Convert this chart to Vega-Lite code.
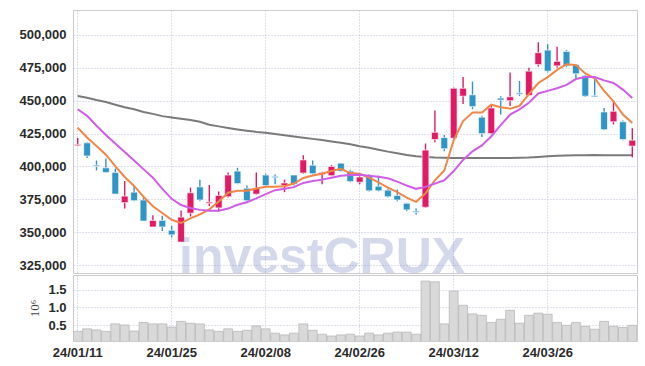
{
  "$schema": "https://vega.github.io/schema/vega-lite/v6.json",
  "autosize": {"type": "pad"},
  "padding": {"left": 17, "top": 9, "right": 9, "bottom": 4},
  "background": "white",
  "spacing": 0,
  "config": {
    "view": {"stroke": "#cccccc", "strokeWidth": 1},
    "axis": {
      "labelFont": "Liberation Sans",
      "labelFontSize": 13,
      "labelFontWeight": "bold",
      "labelColor": "#2a2a2a",
      "labelOverlap": false,
      "gridColor": "#bcc3da",
      "gridDash": [1, 2],
      "gridWidth": 1,
      "ticks": false,
      "domain": false
    }
  },
  "data": {"name": "k"},
  "datasets": {
    "k": [
      {"d": "24/01/11", "o": 415800, "h": 421600, "l": 415500, "c": 416800, "v": 0.33, "ma5": 429500, "ma10": 443500, "ma60": 453600},
      {"d": "24/01/12", "o": 418000, "h": 418500, "l": 406500, "c": 408000, "v": 0.40, "ma5": 422000, "ma10": 438500, "ma60": 452200},
      {"d": "24/01/15", "o": 401000, "h": 404500, "l": 397000, "c": 400000, "v": 0.37, "ma5": 415500, "ma10": 431000, "ma60": 450500},
      {"d": "24/01/16", "o": 399000, "h": 406000, "l": 395000, "c": 395500, "v": 0.33, "ma5": 409000, "ma10": 424000, "ma60": 449000},
      {"d": "24/01/17", "o": 395500, "h": 398500, "l": 379000, "c": 379000, "v": 0.54, "ma5": 400300, "ma10": 417500, "ma60": 447000},
      {"d": "24/01/18", "o": 372500, "h": 389000, "l": 368000, "c": 377500, "v": 0.51, "ma5": 392000, "ma10": 411000, "ma60": 445000},
      {"d": "24/01/19", "o": 380500, "h": 385000, "l": 373500, "c": 374000, "v": 0.34, "ma5": 385200, "ma10": 404500, "ma60": 443500},
      {"d": "24/01/22", "o": 374500, "h": 376000, "l": 358500, "c": 358500, "v": 0.58, "ma5": 377000, "ma10": 398000, "ma60": 441500},
      {"d": "24/01/23", "o": 354000, "h": 363000, "l": 354000, "c": 359000, "v": 0.54, "ma5": 369800, "ma10": 391500, "ma60": 440000},
      {"d": "24/01/24", "o": 359000, "h": 362500, "l": 351000, "c": 354000, "v": 0.54, "ma5": 364600, "ma10": 383000, "ma60": 438300},
      {"d": "24/01/25", "o": 351500, "h": 355000, "l": 346000, "c": 348000, "v": 0.45, "ma5": 359500, "ma10": 375400, "ma60": 437300},
      {"d": "24/01/26", "o": 342500, "h": 366500, "l": 342500, "c": 361500, "v": 0.61, "ma5": 357000, "ma10": 370700, "ma60": 436300},
      {"d": "24/01/29", "o": 364500, "h": 384000, "l": 362000, "c": 380000, "v": 0.56, "ma5": 360500, "ma10": 368500, "ma60": 435300},
      {"d": "24/01/30", "o": 384500, "h": 390000, "l": 373500, "c": 374500, "v": 0.54, "ma5": 363600, "ma10": 367000, "ma60": 434000},
      {"d": "24/01/31", "o": 372000, "h": 386000, "l": 370000, "c": 373000, "v": 0.37, "ma5": 367400, "ma10": 366300, "ma60": 431800},
      {"d": "24/02/01", "o": 368500, "h": 381000, "l": 366000, "c": 378000, "v": 0.33, "ma5": 373400, "ma10": 366300, "ma60": 430500},
      {"d": "24/02/02", "o": 377000, "h": 395500, "l": 376500, "c": 393500, "v": 0.40, "ma5": 380000, "ma10": 368000, "ma60": 429300},
      {"d": "24/02/05", "o": 396500, "h": 399000, "l": 386500, "c": 387000, "v": 0.33, "ma5": 381500, "ma10": 370900, "ma60": 428200},
      {"d": "24/02/06", "o": 383500, "h": 385500, "l": 373000, "c": 374000, "v": 0.36, "ma5": 381500, "ma10": 372800, "ma60": 427200},
      {"d": "24/02/07", "o": 379000, "h": 395500, "l": 378500, "c": 383500, "v": 0.48, "ma5": 383200, "ma10": 375800, "ma60": 426300},
      {"d": "24/02/08", "o": 393500, "h": 394500, "l": 384500, "c": 385500, "v": 0.40, "ma5": 384500, "ma10": 379000, "ma60": 425700},
      {"d": "24/02/13", "o": 392500, "h": 394000, "l": 386500, "c": 391500, "v": 0.28, "ma5": 384600, "ma10": 382000, "ma60": 424700},
      {"d": "24/02/14", "o": 385500, "h": 390000, "l": 380500, "c": 387500, "v": 0.23, "ma5": 385000, "ma10": 383000, "ma60": 423800},
      {"d": "24/02/15", "o": 393500, "h": 393500, "l": 385500, "c": 386500, "v": 0.28, "ma5": 387000, "ma10": 384300, "ma60": 422800},
      {"d": "24/02/16", "o": 395000, "h": 408500, "l": 394500, "c": 405000, "v": 0.54, "ma5": 391300, "ma10": 387500, "ma60": 421900},
      {"d": "24/02/19", "o": 401000, "h": 404500, "l": 394000, "c": 394500, "v": 0.36, "ma5": 393100, "ma10": 389000, "ma60": 421000},
      {"d": "24/02/20", "o": 394000, "h": 396000, "l": 386500, "c": 395500, "v": 0.25, "ma5": 394500, "ma10": 390000, "ma60": 420100},
      {"d": "24/02/21", "o": 393000, "h": 401000, "l": 392500, "c": 400000, "v": 0.20, "ma5": 396500, "ma10": 391400, "ma60": 419000},
      {"d": "24/02/22", "o": 402500, "h": 402500, "l": 396000, "c": 396500, "v": 0.23, "ma5": 398300, "ma10": 393000, "ma60": 418000},
      {"d": "24/02/23", "o": 396500, "h": 397500, "l": 388000, "c": 388500, "v": 0.25, "ma5": 395000, "ma10": 393500, "ma60": 416900},
      {"d": "24/02/26", "o": 388000, "h": 393000, "l": 386500, "c": 392000, "v": 0.20, "ma5": 394500, "ma10": 393800, "ma60": 415400},
      {"d": "24/02/27", "o": 393000, "h": 394000, "l": 381000, "c": 381500, "v": 0.28, "ma5": 391500, "ma10": 393000, "ma60": 414200},
      {"d": "24/02/28", "o": 385000, "h": 393000, "l": 381000, "c": 381500, "v": 0.23, "ma5": 388000, "ma10": 392200, "ma60": 412700},
      {"d": "24/02/29", "o": 382000, "h": 383000, "l": 376500, "c": 377000, "v": 0.28, "ma5": 384000, "ma10": 391000, "ma60": 411300},
      {"d": "24/03/04", "o": 378000, "h": 382500, "l": 373500, "c": 374500, "v": 0.31, "ma5": 380500, "ma10": 388500, "ma60": 410100},
      {"d": "24/03/05", "o": 372000, "h": 372500, "l": 366000, "c": 367000, "v": 0.31, "ma5": 376300, "ma10": 385500, "ma60": 408800},
      {"d": "24/03/06", "o": 366000, "h": 368000, "l": 363500, "c": 365000, "v": 0.25, "ma5": 373100, "ma10": 383000, "ma60": 407800},
      {"d": "24/03/07", "o": 369000, "h": 417500, "l": 368500, "c": 412500, "v": 1.74, "ma5": 379500, "ma10": 384500, "ma60": 407200},
      {"d": "24/03/08", "o": 420500, "h": 442500, "l": 418500, "c": 426000, "v": 1.72, "ma5": 389500, "ma10": 387000, "ma60": 406800},
      {"d": "24/03/11", "o": 422000, "h": 424000, "l": 411500, "c": 413500, "v": 0.54, "ma5": 397000, "ma10": 389500, "ma60": 406600},
      {"d": "24/03/12", "o": 421500, "h": 460000, "l": 420500, "c": 459500, "v": 1.46, "ma5": 420000, "ma10": 396500, "ma60": 406500},
      {"d": "24/03/13", "o": 453500, "h": 468000, "l": 447500, "c": 459500, "v": 1.06, "ma5": 434500, "ma10": 405000, "ma60": 406500},
      {"d": "24/03/14", "o": 454500, "h": 464500, "l": 443500, "c": 445500, "v": 0.82, "ma5": 441000, "ma10": 411500, "ma60": 406500},
      {"d": "24/03/15", "o": 437500, "h": 438500, "l": 422500, "c": 425000, "v": 0.78, "ma5": 441000, "ma10": 416000, "ma60": 406500},
      {"d": "24/03/18", "o": 425000, "h": 447500, "l": 425000, "c": 444500, "v": 0.58, "ma5": 447000, "ma10": 423000, "ma60": 406500},
      {"d": "24/03/19", "o": 452000, "h": 453500, "l": 439500, "c": 450500, "v": 0.67, "ma5": 445000, "ma10": 431500, "ma60": 406500},
      {"d": "24/03/20", "o": 450000, "h": 471500, "l": 446000, "c": 453000, "v": 0.92, "ma5": 444000, "ma10": 439500, "ma60": 406500},
      {"d": "24/03/21", "o": 456000, "h": 465000, "l": 453500, "c": 455000, "v": 0.56, "ma5": 446000, "ma10": 443500, "ma60": 406600},
      {"d": "24/03/22", "o": 454000, "h": 475000, "l": 454000, "c": 472500, "v": 0.78, "ma5": 455000, "ma10": 448500, "ma60": 406800},
      {"d": "24/03/25", "o": 477500, "h": 494500, "l": 476000, "c": 486500, "v": 0.84, "ma5": 463500, "ma10": 455500, "ma60": 407300},
      {"d": "24/03/26", "o": 488500, "h": 493000, "l": 471500, "c": 472500, "v": 0.81, "ma5": 468000, "ma10": 457500, "ma60": 407800},
      {"d": "24/03/27", "o": 476500, "h": 491000, "l": 475000, "c": 480000, "v": 0.58, "ma5": 473500, "ma10": 459500, "ma60": 408100},
      {"d": "24/03/28", "o": 487500, "h": 488500, "l": 475500, "c": 476500, "v": 0.50, "ma5": 477800, "ma10": 462000, "ma60": 408300},
      {"d": "24/03/29", "o": 477500, "h": 478000, "l": 467000, "c": 470500, "v": 0.58, "ma5": 477200, "ma10": 466500, "ma60": 408500},
      {"d": "24/04/01", "o": 469000, "h": 469500, "l": 453000, "c": 453500, "v": 0.47, "ma5": 470800, "ma10": 468000, "ma60": 408600},
      {"d": "24/04/02", "o": 454000, "h": 466500, "l": 453000, "c": 453000, "v": 0.39, "ma5": 467000, "ma10": 468000, "ma60": 408700},
      {"d": "24/04/03", "o": 441500, "h": 444500, "l": 427500, "c": 428000, "v": 0.61, "ma5": 457500, "ma10": 465500, "ma60": 408600},
      {"d": "24/04/04", "o": 434000, "h": 450000, "l": 432000, "c": 442000, "v": 0.47, "ma5": 449500, "ma10": 463500, "ma60": 408500},
      {"d": "24/04/05", "o": 434000, "h": 435000, "l": 420000, "c": 420500, "v": 0.44, "ma5": 439500, "ma10": 458500, "ma60": 408500},
      {"d": "24/04/08", "o": 415500, "h": 429000, "l": 407000, "c": 420000, "v": 0.50, "ma5": 433000, "ma10": 452000, "ma60": 408500}
    ]
  },
  "vconcat": [
    {
      "width": 564,
      "height": 263,
      "encoding": {
        "x": {
          "field": "d", "type": "ordinal", "sort": null,
          "scale": {"paddingInner": 0, "paddingOuter": 0},
          "axis": {"values": ["24/01/11", "24/01/25", "24/02/08", "24/02/26", "24/03/12", "24/03/26"], "labels": false, "title": null, "grid": true, "bandPosition": 0.5, "minExtent": 0, "maxExtent": 0}
        }
      },
      "layer": [
        {
          "mark": {"type": "line", "color": "#7a7a7a", "strokeWidth": 2},
          "encoding": {
            "y": {
              "field": "ma60", "type": "quantitative",
              "scale": {"domain": [319000, 519000], "nice": false, "zero": false},
              "axis": {"values": [325000, 350000, 375000, 400000, 425000, 450000, 475000, 500000], "format": ",d", "title": null, "labelPadding": 7, "labelOverlap": false, "minExtent": 55, "maxExtent": 55}
            }
          }
        },
        {
          "mark": {"type": "rule", "strokeWidth": 1.4},
          "encoding": {
            "y": {"field": "l", "type": "quantitative", "axis": {"values": [325000, 350000, 375000, 400000, 425000, 450000, 475000, 500000], "format": ",d", "title": null, "labelPadding": 7, "labelOverlap": false, "minExtent": 55, "maxExtent": 55}},
            "y2": {"field": "h"},
            "color": {"condition": {"test": "datum.c >= datum.o", "value": "#e21a64"}, "value": "#2f95c6"}
          }
        },
        {
          "mark": {"type": "bar", "width": {"band": 0.72}, "stroke": "#ffffff", "strokeWidth": 0.8, "strokeOpacity": 0.8},
          "encoding": {
            "y": {"field": "o", "type": "quantitative", "axis": {"values": [325000, 350000, 375000, 400000, 425000, 450000, 475000, 500000], "format": ",d", "title": null, "labelPadding": 7, "labelOverlap": false, "minExtent": 55, "maxExtent": 55}},
            "y2": {"field": "c"},
            "fill": {"condition": {"test": "datum.c >= datum.o", "value": "#e21a64"}, "value": "#2f95c6"}
          }
        },
        {
          "mark": {"type": "line", "color": "#f08648", "strokeWidth": 2},
          "encoding": {"y": {"field": "ma5", "type": "quantitative", "axis": {"values": [325000, 350000, 375000, 400000, 425000, 450000, 475000, 500000], "format": ",d", "title": null, "labelPadding": 7, "labelOverlap": false, "minExtent": 55, "maxExtent": 55}}}
        },
        {
          "mark": {"type": "line", "color": "#cf5de8", "strokeWidth": 2},
          "encoding": {"y": {"field": "ma10", "type": "quantitative", "axis": {"values": [325000, 350000, 375000, 400000, 425000, 450000, 475000, 500000], "format": ",d", "title": null, "labelPadding": 7, "labelOverlap": false, "minExtent": 55, "maxExtent": 55}}}
        },
        {
          "data": {"values": [{"wm": "investCRUX", "at": "24/02/20", "base": 319000}]},
          "mark": {"type": "text", "font": "Liberation Sans", "fontWeight": "bold", "fontSize": 50, "color": "#5a6db0", "opacity": 0.26, "align": "center", "baseline": "alphabetic", "clip": true},
          "encoding": {
            "x": {"field": "at", "type": "ordinal"},
            "y": {"field": "base", "type": "quantitative", "axis": {"values": [325000, 350000, 375000, 400000, 425000, 450000, 475000, 500000], "format": ",d", "title": null, "labelPadding": 7, "labelOverlap": false, "minExtent": 55, "maxExtent": 55}},
            "text": {"field": "wm"}
          }
        }
      ]
    },
    {
      "width": 564,
      "height": 66,
      "mark": {"type": "bar", "width": {"band": 0.94}, "fill": "#d9d9d9", "stroke": "#b8b8b8", "strokeWidth": 0.8, "clip": true},
      "encoding": {
        "x": {
          "field": "d", "type": "ordinal", "sort": null,
          "scale": {"paddingInner": 0, "paddingOuter": 0},
          "axis": {"values": ["24/01/11", "24/01/25", "24/02/08", "24/02/26", "24/03/12", "24/03/26"], "title": null, "labelAngle": 0, "grid": true, "bandPosition": 0.5, "labelPadding": 5}
        },
        "y": {
          "field": "v", "type": "quantitative",
          "scale": {"domain": [0.06, 1.91], "nice": false, "zero": false},
          "axis": {"values": [0.5, 1.0, 1.5], "format": ".1f", "title": "10⁶", "titleFont": "Liberation Serif", "titleFontSize": 13, "titleFontWeight": "normal", "titleColor": "#444444", "titlePadding": 6, "labelPadding": 7, "labelOverlap": false}
        }
      }
    }
  ]
}
